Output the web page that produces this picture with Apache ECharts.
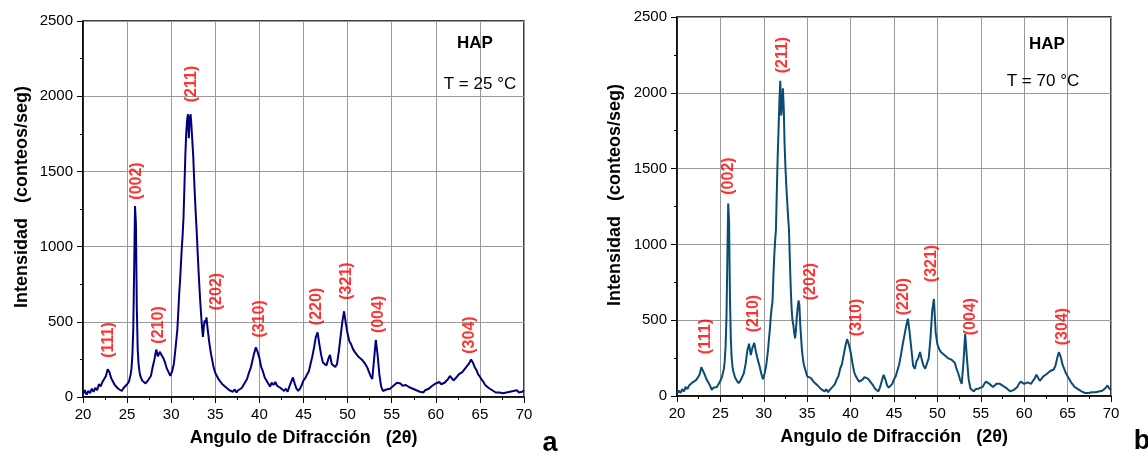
<!DOCTYPE html>
<html>
<head>
<meta charset="utf-8">
<script src="https://cdn.jsdelivr.net/npm/echarts@6/dist/echarts.min.js"></script>
<style>
html,body{margin:0;padding:0;background:#fff;}
#chart{width:1148px;height:456px;}
</style>
</head>
<body>
<div id="chart"></div>
<script>
// ---------- DATA ----------
// sampling segments of 2θ: [start, end, step]
const angleSegments = [[20.0, 25.4, 0.2], [25.5, 26.5, 0.1], [26.7, 30.5, 0.2], [30.6, 34.6, 0.1], [34.8, 70.0, 0.2]];

// Panel a : T = 25 °C (counts/s)
const intensityA = [
  // 20.0 – 25.4
  20,45,15,40,25, 55,35,60,45,85, 70,100,95,140,185, 165,125,115,80,90, 55,65,40,60,55, 85,100,150,
  // 25.5 – 26.5
  190,280,450,850,1270,1150,600,320,220,170,140,
  // 26.7 – 30.5
  110,120,90,105,110, 140,200,250,315,270, 300,310,260,230,190, 200,140,170,220,330,
  // 30.6 – 34.6
  390,450,560,680,770,880,990,1080,1200,1400,
  1600,1750,1840,1880,1720,1850,1880,1800,1700,1600,
  1450,1320,1200,1090,960,840,730,630,540,460,
  400,470,510,490,530,470,420,370,330,290,
  260,
  // 34.8 – 70.0
  200,
  160,150,115,110,85,
  90,65,70,45,55,
  35,50,30,45,40,
  60,70,100,120,160,
  190,240,290,330,300,
  260,200,170,130,110,
  90,70,95,80,100,
  75,85,60,65,40,
  55,35,70,100,130,
  90,55,40,55,80,
  110,125,150,170,220,
  270,330,400,430,350,
  280,230,240,210,250,
  280,220,230,200,220,
  300,400,500,570,490,
  420,370,350,320,300,
  290,270,280,250,250,
  220,200,170,140,120,
  250,380,280,150,70,
  40,35,50,40,55,
  60,75,80,95,85,
  90,75,70,80,75,
  65,70,55,60,45,
  50,35,40,30,45,
  40,55,60,75,70,
  90,80,100,85,80,
  95,90,120,140,125,
  110,120,135,150,145,
  165,170,195,200,225,
  250,230,200,180,150,
  135,115,100,80,70,
  60,50,45,35,30,
  25,30,20,25,20,
  30,25,35,25,40,
  30,45,30,40,35,
  45
];

// Panel b : T = 70 °C
const intensityB = [
  // 20.0 – 25.4
  15,35,20,45,30, 60,45,70,60,90, 80,105,100,140,190, 200,140,110,90,70, 40,55,45,60,70, 100,130,180,
  // 25.5 – 26.5
  230,330,520,900,1270,1150,650,380,250,190,160,
  // 26.7 – 30.5
  120,100,85,100,110, 150,210,300,345,270, 320,350,290,240,200, 150,110,150,210,310,
  // 30.6 – 34.6
  380,440,520,580,620,780,920,1020,1100,1350,
  1580,1760,1950,2080,1850,1900,2030,1900,1650,1500,
  1380,1280,1180,1100,900,720,580,500,470,420,
  380,430,520,580,630,600,470,380,300,250,
  210,
  // 34.8 – 70.0
  170,
  130,140,120,115,90,
  95,70,65,45,50,
  30,45,25,40,45,
  65,80,110,130,180,
  210,270,330,375,340,
  290,220,160,130,110,
  95,100,110,125,130,
  115,110,85,70,50,
  40,30,60,100,140,
  110,70,55,45,80,
  110,130,170,210,270,
  340,400,460,510,420,
  310,200,180,230,250,
  290,240,200,180,175,
  250,380,560,640,420,
  340,310,290,290,270,
  260,250,245,240,230,
  220,180,150,110,80,
  220,410,250,110,50,
  40,30,45,40,50,
  40,60,80,95,85,
  80,70,60,70,80,
  85,80,70,65,55,
  50,40,30,35,40,
  45,60,80,95,85,
  80,75,90,85,80,
  100,115,140,120,100,
  115,130,120,145,150,
  165,170,175,200,250,
  290,260,210,180,150,
  130,110,90,80,60,
  55,45,40,30,25,
  20,25,20,30,25,
  30,25,35,30,40,
  35,45,55,70,50,
  40
];

// Miller index labels and their anchor (2θ, intensity)
const hklLabels = ['(111)','(002)','(210)','(211)','(202)','(310)','(220)','(321)','(004)','(304)'];
const hklAngleA = [22.95, 26.12, 28.62, 32.36, 35.19, 40.07, 46.5, 49.93, 53.56, 63.88];
const hklValueA = [379, 1436, 479, 2081, 701, 519, 602, 771, 549, 412];
const hklAngleB = [23.34, 25.99, 28.87, 32.2, 35.4, 40.7, 46.15, 49.34, 53.87, 64.43];
const hklValueB = [392, 1451, 544, 2249, 755, 518, 656, 874, 524, 458];

const xTicks = { min: 20, max: 70, interval: 5 };
const yTicks = { min: 0, max: 2500, interval: 500 };

// ---------- BUILD ----------
function buildAngles(segs) {
  const out = [];
  segs.forEach(([s, e, st]) => {
    const n = Math.round((e - s) / st) + 1;
    for (let i = 0; i < n; i++) out.push(+(s + i * st).toFixed(2));
  });
  return out;
}
const angles = buildAngles(angleSegments);
function pairs(vals) {
  const n = Math.min(angles.length, vals.length);
  const out = [];
  for (let i = 0; i < n; i++) out.push([angles[i], vals[i]]);
  return out;
}
function labelPts(xs, ys) { return hklLabels.map((t, i) => [xs[i], ys[i], t]); }

const FONT = "'Liberation Sans', Arial, Helvetica, sans-serif";
const grids = [
  { left: 83, top: 21, width: 441, height: 376 },
  { left: 677, top: 17, width: 434, height: 379 }
];

function xAxisCfg(i) {
  return {
    gridIndex: i, type: 'value', min: xTicks.min, max: xTicks.max, interval: xTicks.interval,
    axisLine: { show: true, onZero: false, lineStyle: { color: '#000', width: 1.5 } },
    axisTick: { show: true, inside: false, length: 6, lineStyle: { color: '#000', width: 1 } },
    minorTick: { show: true, splitNumber: 2, length: 3, lineStyle: { color: '#000', width: 1 } },
    splitLine: { show: true, lineStyle: { color: '#9a9a9a', width: 1 } },
    axisLabel: { fontSize: 15, color: '#000', margin: 10, fontFamily: FONT, formatter: v => String(v) },
    name: 'Angulo de Difracción   (2θ)', nameLocation: 'middle', nameGap: 32,
    nameTextStyle: { fontSize: 18, fontWeight: 'bold', color: '#000', fontFamily: FONT }
  };
}
function yAxisCfg(i) {
  return {
    gridIndex: i, type: 'value', min: yTicks.min, max: yTicks.max, interval: yTicks.interval,
    axisLine: { show: true, lineStyle: { color: '#000', width: 1.5 } },
    axisTick: { show: true, inside: false, length: 6, lineStyle: { color: '#000', width: 1 } },
    minorTick: { show: true, splitNumber: 2, length: 3, lineStyle: { color: '#000', width: 1 } },
    splitLine: { show: true, lineStyle: { color: '#9a9a9a', width: 1 } },
    axisLabel: { fontSize: 15, color: '#000', margin: 10, fontFamily: FONT, formatter: v => String(v) }
  };
}
function lineSeries(i, vals, color) {
  return {
    type: 'line', xAxisIndex: i, yAxisIndex: i, data: pairs(vals), showSymbol: false, symbol: 'none',
    lineStyle: { color: color, width: 2 }, silent: true, z: 3
  };
}
function labelSeries(i, xs, ys) {
  return {
    type: 'scatter', xAxisIndex: i, yAxisIndex: i, data: labelPts(xs, ys), symbolSize: 1,
    itemStyle: { color: 'rgba(0,0,0,0)' }, silent: true, z: 5,
    label: {
      show: true, position: 'inside', rotate: 90, color: '#ff0000', fontWeight: 'bold',
      fontSize: 16, fontFamily: FONT, formatter: p => p.data[2]
    }
  };
}
function txt(x, y, text, size, weight, rot) {
  return {
    type: 'text', x: x, y: y, rotation: rot || 0, z: 10,
    style: { text: text, fill: '#000', font: (weight || 'normal') + ' ' + size + 'px ' + FONT,
             textAlign: 'center', textVerticalAlign: 'middle' }
  };
}

const chart = echarts.init(document.getElementById('chart'), null, { renderer: 'canvas' });
chart.setOption({
  animation: false,
  backgroundColor: '#fff',
  grid: grids.map(g => Object.assign({ show: true, borderColor: '#000', borderWidth: 1.5, backgroundColor: 'transparent' }, g)),
  xAxis: [xAxisCfg(0), xAxisCfg(1)],
  yAxis: [yAxisCfg(0), yAxisCfg(1)],
  series: [
    lineSeries(0, intensityA, '#00007f'),
    lineSeries(1, intensityB, '#0b4c74'),
    labelSeries(0, hklAngleA, hklValueA),
    labelSeries(1, hklAngleB, hklValueB)
  ],
  graphic: [
    txt(22, 197, 'Intensidad   (conteos/seg)', 18, 'bold', Math.PI / 2),
    txt(615, 195, 'Intensidad   (conteos/seg)', 18, 'bold', Math.PI / 2),
    txt(475, 43, 'HAP', 17, 'bold'),
    txt(480, 84, 'T = 25 °C', 17, 'normal'),
    txt(1047, 44, 'HAP', 17, 'bold'),
    txt(1043, 81, 'T = 70 °C', 17, 'normal'),
    txt(550, 444, 'a', 27, 'bold'),
    txt(1142, 442, 'b', 27, 'bold')
  ]
});
</script>
</body>
</html>
